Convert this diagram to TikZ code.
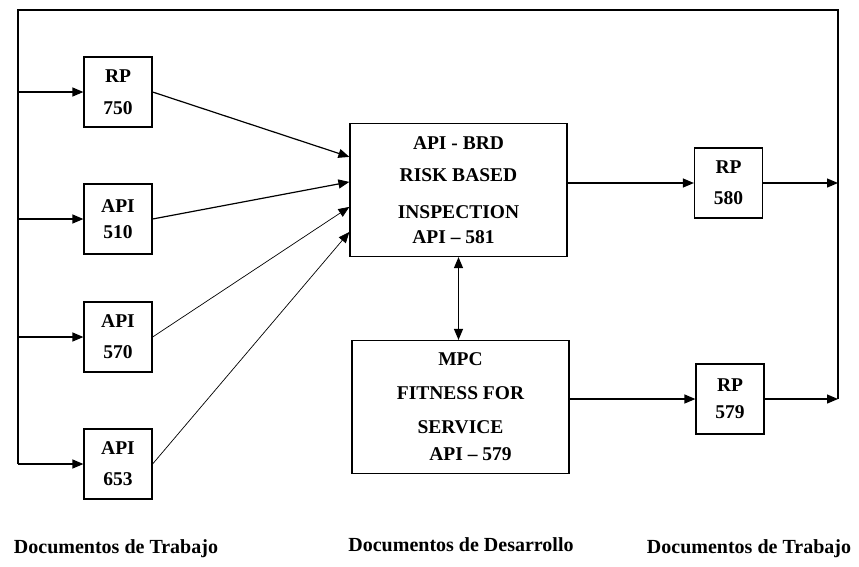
\documentclass[tikz,border=0pt]{standalone}
\usepackage{fontspec}
\setmainfont{Liberation Serif}
\usetikzlibrary{arrows.meta,positioning,calc}

\begin{document}
\begin{tikzpicture}[x=1pt,y=-1pt,
    box/.style={draw, line width=1.2pt, align=center, inner sep=0pt,
                font=\bfseries\fontsize{19.5}{32}\selectfont},
    docbox/.style={box, minimum width=68pt, minimum height=70pt},
    bigbox/.style={box, minimum width=217pt, minimum height=133pt},
    arr/.style={-{Triangle[length=11pt,width=9pt]}, line width=1.2pt},
    thinarr/.style={arr, line width=0.7pt},
    caption/.style={font=\bfseries\fontsize{20}{24}\selectfont}]
    \useasboundingbox (0,0) rectangle (859,566);

    % Documentos de trabajo (entrada)
    \node[docbox] (rp750)  at (118,92)  {RP\\750};
    \node[docbox] (api510) at (118,219) {API\\[-6pt]510};
    \node[docbox] (api570) at (118,337) {API\\[-1pt]570};
    \node[docbox] (api653) at (118,464) {API\\[-1pt]653};

    % Documentos de desarrollo
    \node[bigbox] (brd) at (458.5,190)
        {API - BRD\\RISK BASED\\[5pt]INSPECTION\\[-7pt]\hspace*{-10pt}API -- 581};
    \node[bigbox] (mpc) at (460.5,407)
        {MPC\\[2pt]FITNESS FOR\\[2pt]SERVICE\\[-5pt]\hspace*{20pt}API -- 579};

    % Documentos de trabajo (salida)
    \node[docbox] (rp580) at (728.5,183) {RP\\[-1pt]580};
    \node[docbox] (rp579) at (730,399)   {RP\\[-5pt]579};

    % Lazo de realimentacion
    \coordinate (tl) at (18,10);
    \coordinate (tr) at (838,10);
    \draw[line width=1.2pt] (api653.west -| tl) -- (tl) -- (tr) -- (tr |- rp579.east);

    % Entradas desde el lazo
    \foreach \n in {rp750,api510,api570,api653}
        \draw[arr] (\n.west -| tl) -- (\n.west);

    % Hacia API - BRD
    \draw[arr]     (rp750.east)  -- ([yshift=-34pt]brd.north west);
    \draw[arr]     (api510.east) -- ([yshift=-59pt]brd.north west);
    \draw[thinarr] (api570.east) -- ([yshift=-84pt]brd.north west);
    \draw[thinarr] (api653.east) -- ([yshift=-109pt]brd.north west);

    % Entre los documentos de desarrollo
    \draw[arr, {Triangle[length=11pt,width=9pt]}-{Triangle[length=11pt,width=9pt]}]
        (brd.south) -- (brd.south |- mpc.north);

    % Salidas
    \draw[arr] (rp580.west -| brd.east) -- (rp580.west);
    \draw[arr] (rp579.west -| mpc.east) -- (rp579.west);
    \draw[arr] (rp580.east) -- (rp580.east -| tr);
    \draw[arr] (rp579.east) -- (rp579.east -| tr);

    % Rotulos inferiores
    \node[caption] (capleft)  at (116,549) {Documentos de Trabajo};
    \node[caption] (capmid)   at (461,545) {Documentos de Desarrollo};
    \node[caption] (capright) at (749,549) {Documentos de Trabajo};
\end{tikzpicture}
\end{document}
